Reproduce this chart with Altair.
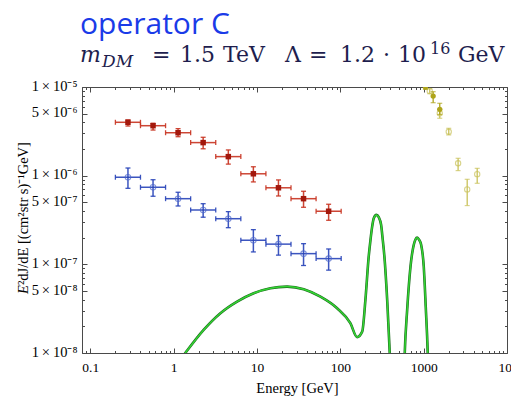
import math
import altair as alt
import pandas as pd

# ---------------- data ----------------
BIN_LO = [0.2, 0.4, 0.8, 1.6, 3.2, 6.4, 12.8, 25.6, 51.2]
BIN_HI = [0.4, 0.8, 1.6, 3.2, 6.4, 12.8, 25.6, 51.2, 102.4]
BIN_C = [0.283, 0.566, 1.13, 2.26, 4.53, 9.05, 18.1, 36.2, 72.4]

RED_F = [4.0e-6, 3.66e-6, 3.05e-6, 2.36e-6, 1.64e-6, 1.05e-6, 7.3e-7, 5.5e-7, 3.97e-7]
RED_LO = [3.63e-6, 3.27e-6, 2.75e-6, 2.01e-6, 1.35e-6, 8.5e-7, 5.9e-7, 4.4e-7, 3.14e-7]
RED_HI = [4.25e-6, 3.9e-6, 3.39e-6, 2.71e-6, 1.95e-6, 1.26e-6, 8.95e-7, 6.67e-7, 4.76e-7]

BLUE_F = [9.6e-7, 7.4e-7, 5.5e-7, 4.1e-7, 3.27e-7, 1.87e-7, 1.69e-7, 1.32e-7, 1.16e-7]
BLUE_LO = [7.2e-7, 5.86e-7, 4.55e-7, 3.4e-7, 2.59e-7, 1.38e-7, 1.27e-7, 9.7e-8, 8.6e-8]
BLUE_HI = [1.22e-6, 9.0e-7, 6.5e-7, 4.83e-7, 3.93e-7, 2.46e-7, 2.11e-7, 1.71e-7, 1.49e-7]

YF_E = [1050, 1300, 1560]
YF_F = [1.0e-5, 7.9e-6, 5.6e-6]
YF_LO = [9.4e-6, 6.65e-6, 4.9e-6]
YF_HI = [1.07e-5, 8.85e-6, 6.55e-6]

YO_E = [1183, 1560, 2000, 2590, 3330, 4390]
YO_F = [9.0e-6, 5.05e-6, 3.13e-6, 1.38e-6, 7.0e-7, 1.04e-6]
YO_LO = [8.4e-6, 4.44e-6, 2.88e-6, 1.14e-6, 4.6e-7, 8.2e-7]
YO_HI = [9.6e-6, 5.6e-6, 3.42e-6, 1.57e-6, 9.1e-7, 1.21e-6]

CURVE1_E = [1.2, 1.38, 2.29, 3.64, 5.77, 9.12, 14.5, 23.0, 36.4, 57.7, 91.5, 132,
            159, 183, 200, 219, 230, 241, 252, 271, 289, 309, 320, 338, 365, 392, 405]
CURVE1_F = [8.4e-9, 1.0e-8, 1.82e-8, 2.81e-8, 3.80e-8, 4.72e-8, 5.38e-8, 5.61e-8,
            5.24e-8, 4.32e-8, 3.20e-8, 2.17e-8, 1.51e-8, 1.74e-8, 3.97e-8, 1.22e-7,
            1.88e-7, 2.66e-7, 3.31e-7, 3.61e-7, 3.40e-7, 2.78e-7, 2.05e-7, 1.22e-7,
            3.97e-8, 9.8e-9, 5.0e-9]
CURVE2_E = [580, 593, 634, 695, 761, 800, 836, 880, 933, 1003, 1059, 1120, 1142]
CURVE2_F = [5.0e-9, 1.0e-8, 3.06e-8, 9.4e-8, 1.66e-7, 1.92e-7, 2.0e-7, 1.9e-7,
            1.66e-7, 9.4e-8, 3.33e-8, 9.8e-9, 5.0e-9]

XLAB_VALUES = [0.1, 1, 10, 100, 1000, 10000]
XLAB_TEXT = ["0.1", "1", "10", "100", "1000", "10⁴"]
YLAB_VALUES = [1e-8, 5e-8, 1e-7, 5e-7, 1e-6, 5e-6, 1e-5]
YLAB_TEXT = ["1\u2009×\u200910⁻⁸", "5\u2009×\u200910⁻⁸", "1\u2009×\u200910⁻⁷", "5\u2009×\u200910⁻⁷",
             "1\u2009×\u200910⁻⁶", "5\u2009×\u200910⁻⁶", "1\u2009×\u200910⁻⁵"]

X_DOMAIN = [0.0795, 10000]
Y_DOMAIN = [1e-8, 1e-5]

X_MINOR = [v for v in [m * 10.0 ** d for d in range(-2, 4) for m in range(2, 10)]
           if X_DOMAIN[0] <= v <= X_DOMAIN[1]]
Y_MINOR = [m * 10.0 ** d for d in range(-8, -5) for m in (2, 3, 4, 6, 7, 8, 9)]

# ---------------- layout ----------------
W, H = 425, 266
PAD = {"left": 82, "top": 87, "right": 4, "bottom": 48}
SERIF = "Liberation Serif"
MATH = "DejaVu Serif"
FRAME = "#4a4a4a"

xs = alt.Scale(type="log", domain=X_DOMAIN)
ys = alt.Scale(type="log", domain=Y_DOMAIN)


def X(field, axis=None):
    return alt.X(field, type="quantitative", scale=xs, axis=axis)


def Y(field, axis=None):
    return alt.Y(field, type="quantitative", scale=ys, axis=axis)


def lookup_expr(values, texts):
    parts = [f"abs(log(datum.value) - ({math.log(v)!r})) < 0.01 ? '{t}'" for v, t in zip(values, texts)]
    return " : ".join(parts) + " : ''"


# ---------------- curve ----------------
curve = pd.DataFrame({
    "E": CURVE1_E + CURVE2_E,
    "F": CURVE1_F + CURVE2_F,
    "seg": ["a"] * len(CURVE1_E) + ["b"] * len(CURVE2_E),
})
curve_dark = alt.Chart(curve).mark_line(clip=True, color="#1d6a1d", strokeWidth=2.6,
                                        interpolate="monotone").encode(
    x=X("E"), y=Y("F"), detail="seg:N")
curve_light = alt.Chart(curve).mark_line(clip=True, color="#33d433", strokeWidth=1.5,
                                         interpolate="monotone").encode(
    x=X("E"), y=Y("F"), detail="seg:N")


# ---------------- error-bar datasets ----------------
def xy_errors(centers, lo_x, hi_x, f, lo, hi, color, width=1.5, opacity=0.9):
    d = pd.DataFrame({"E": centers, "ELO": lo_x, "EHI": hi_x, "F": f, "LO": lo, "HI": hi})
    hcaps = pd.DataFrame({"E": lo_x + hi_x, "F": f + f})
    vcaps = pd.DataFrame({"E": centers + centers, "F": lo + hi})
    hbar = alt.Chart(d).mark_rule(color=color, strokeWidth=width, opacity=opacity, clip=True).encode(
        x=X("ELO"), x2="EHI", y=Y("F"))
    vbar = alt.Chart(d).mark_rule(color=color, strokeWidth=width, opacity=opacity, clip=True).encode(
        x=X("E"), y=Y("LO"), y2="HI")
    hc = alt.Chart(hcaps).mark_tick(orient="vertical", size=5, thickness=1.3, color=color, opacity=opacity, clip=True).encode(
        x=X("E"), y=Y("F"))
    vc = alt.Chart(vcaps).mark_tick(orient="horizontal", size=5, thickness=1.3, color=color, opacity=opacity, clip=True).encode(
        x=X("E"), y=Y("F"))
    return [hbar, vbar, hc, vc]


def y_errors(e, f, lo, hi, color, width=1.3):
    d = pd.DataFrame({"E": e, "F": f, "LO": lo, "HI": hi})
    vcaps = pd.DataFrame({"E": e + e, "F": lo + hi})
    vbar = alt.Chart(d).mark_rule(color=color, strokeWidth=width, clip=True).encode(
        x=X("E"), y=Y("LO"), y2="HI")
    vc = alt.Chart(vcaps).mark_tick(orient="horizontal", size=5, thickness=1.2, color=color, clip=True).encode(
        x=X("E"), y=Y("F"))
    return [vbar, vc]


RED = "#c8321f"
BLUE = "#2743b8"
OLIVE = "#aea41a"
OLIVE_L = "#c9c25a"

red_layers = xy_errors(BIN_C, BIN_LO, BIN_HI, RED_F, RED_LO, RED_HI, RED)
red_pts = alt.Chart(pd.DataFrame({"E": BIN_C, "F": RED_F})).mark_point(
    shape="square", filled=True, size=30, color="#a3180c", opacity=1).encode(x=X("E"), y=Y("F"))

blue_layers = xy_errors(BIN_C, BIN_LO, BIN_HI, BLUE_F, BLUE_LO, BLUE_HI, BLUE)
blue_pts = alt.Chart(pd.DataFrame({"E": BIN_C, "F": BLUE_F})).mark_point(
    shape="circle", filled=False, size=30, strokeWidth=1.1, color="#4a66cc").encode(x=X("E"), y=Y("F"))

yo_layers = y_errors(YO_E, YO_F, YO_LO, YO_HI, OLIVE_L)
yo_pts = alt.Chart(pd.DataFrame({"E": YO_E, "F": YO_F})).mark_point(
    shape="circle", filled=False, size=28, strokeWidth=1.1, color=OLIVE_L, clip=True).encode(x=X("E"), y=Y("F"))
yf_layers = y_errors(YF_E, YF_F, YF_LO, YF_HI, OLIVE)
yf_pts = alt.Chart(pd.DataFrame({"E": YF_E, "F": YF_F})).mark_point(
    shape="circle", filled=True, size=28, color=OLIVE, opacity=1, clip=True).encode(x=X("E"), y=Y("F"))

# ---------------- axes (labels + inward ticks on all four sides) ----------------
anchor = pd.DataFrame({"E": [1.0], "F": [1e-6]})

label_x = alt.Axis(orient="bottom", values=XLAB_VALUES, labelExpr=lookup_expr(XLAB_VALUES, XLAB_TEXT),
                   ticks=False, domain=False, grid=False, title=None, labelFont=SERIF, labelFontSize=13.5,
                   labelColor="black", labelPadding=7, labelFlush=False, labelOverlap=False, labelBound=False)
label_y = alt.Axis(orient="left", values=YLAB_VALUES, labelExpr=lookup_expr(YLAB_VALUES, YLAB_TEXT),
                   ticks=False, domain=False, grid=False, title=None, labelFont=SERIF, labelFontSize=14.5,
                   labelColor="black", labelPadding=5, labelFlush=False, labelOverlap=False, labelBound=False,
                   labelOffset=-1)


def tick_axis(orient, values, size):
    return alt.Axis(orient=orient, values=values, tickSize=size, offset=-size, labels=False, domain=False,
                    grid=False, title=None, ticks=True, tickColor=FRAME, tickWidth=1)


def axis_layer(xax, yax):
    return alt.Chart(anchor).mark_point(opacity=0).encode(x=X("E", xax), y=Y("F", yax))


axes_layers = [
    axis_layer(label_x, label_y),
    axis_layer(tick_axis("bottom", XLAB_VALUES, 5), tick_axis("left", YLAB_VALUES, 5)),
    axis_layer(tick_axis("bottom", X_MINOR, 2.5), tick_axis("left", Y_MINOR, 2.5)),
    axis_layer(tick_axis("top", XLAB_VALUES, 5), tick_axis("right", YLAB_VALUES, 5)),
    axis_layer(tick_axis("top", X_MINOR, 2.5), tick_axis("right", Y_MINOR, 2.5)),
]

# ---------------- text ----------------
one = pd.DataFrame({"k": [0]})


def txt(s, x, y, size, font=SERIF, style="normal", color="black", angle=0, align="left", baseline="alphabetic"):
    return alt.Chart(one).mark_text(text=s, font=font, fontSize=size, fontStyle=style, color=color,
                                    angle=angle, align=align, baseline=baseline).encode(
        x=alt.value(x), y=alt.value(y))


OX, OY = PAD["left"], PAD["top"]
NAVY = "#1e1e4e"
texts = [
    txt("operator C", 80 - OX, 33.5 - OY, 30, font="Open Sans", color="#1a3be8"),
    txt("m", 80 - OX, 62 - OY, 22, font=MATH, style="italic", color=NAVY),
    txt("DM", 102 - OX, 67 - OY, 17, font=MATH, style="italic", color=NAVY),
    txt("=", 152 - OX, 62 - OY, 22, font=MATH, color=NAVY),
    txt("1.5", 180 - OX, 62 - OY, 22, font=MATH, color=NAVY),
    txt("TeV", 223 - OX, 62 - OY, 22, font=MATH, color=NAVY),
    txt("Λ", 285 - OX, 62 - OY, 22, font=MATH, color=NAVY),
    txt("=", 309 - OX, 62 - OY, 22, font=MATH, color=NAVY),
    txt("1.2", 340 - OX, 62 - OY, 22, font=MATH, color=NAVY),
    txt("·", 383 - OX, 62 - OY, 22, font=MATH, color=NAVY),
    txt("10", 398 - OX, 62 - OY, 22, font=MATH, color=NAVY),
    txt("16", 430 - OX, 54 - OY, 16, font=MATH, color=NAVY),
    txt("GeV", 458 - OX, 62 - OY, 22, font=MATH, color=NAVY),
    txt("Energy [GeV]", 297.5 - OX, 393 - OY, 14.5, align="center"),
    txt("E", 28 - OX, 294 - OY, 14.5, style="italic", angle=270),
    txt("²dJ/dE [(cm²str s)⁻¹GeV]", 28 - OX, 285 - OY, 14.5, angle=270),
]

chart = alt.layer(
    curve_dark, curve_light,
    *red_layers, red_pts,
    *blue_layers, blue_pts,
    *yo_layers, yo_pts, *yf_layers, yf_pts,
    *axes_layers,
    *texts,
).resolve_axis(x="independent", y="independent").properties(
    width=W, height=H, padding=PAD, autosize=alt.AutoSizeParams(type="none"),
    background="white",
).configure_view(stroke=FRAME, strokeWidth=1).configure_axis(grid=False)

chart.save("out.html", embed_options={"renderer": "svg", "actions": False})
